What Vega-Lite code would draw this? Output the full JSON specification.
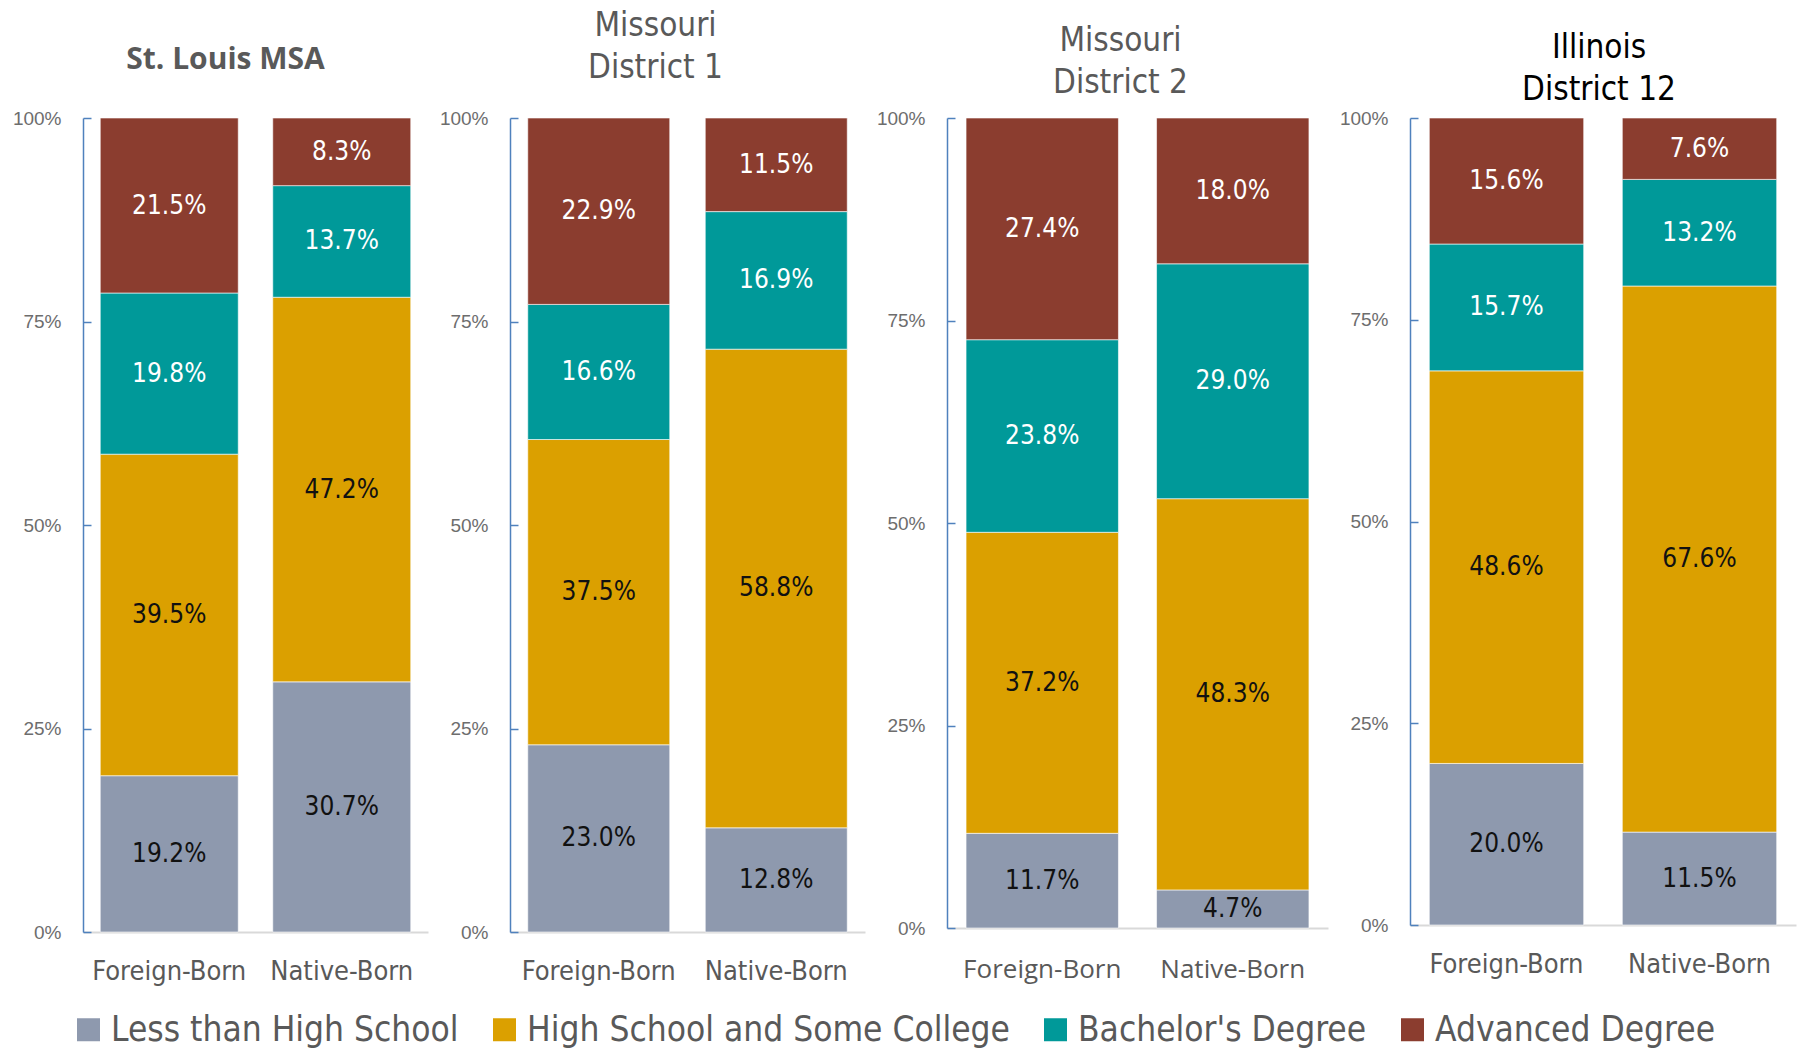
{
  "$schema": "https://vega.github.io/schema/vega-lite/v6.json",
  "background": "white",
  "padding": {"left": 12, "top": 10, "right": 5, "bottom": 5},
  "spacing": 82,
  "bounds": "flush",
  "resolve": {"scale": {"x": "independent", "y": "independent", "color": "shared"}},
  "config": {
    "view": {"stroke": null},
    "axisY": {"domainColor": "#4F81BD", "domainWidth": 1.5, "tickColor": "#4F81BD", "tickWidth": 1.5, "tickSize": -8, "labelPadding": 30, "labelFont": "Liberation Sans", "labelFontSize": 19, "labelColor": "#6d6d6d", "grid": false, "format": ".0%", "title": null},
    "axisX": {"domainColor": "#D9D9D9", "domainWidth": 2, "ticks": false, "labelFont": "DejaVu Sans Condensed, Roboto, sans-serif", "labelFontSize": 27, "labelColor": "#595959", "labelPadding": 26, "labelAngle": 0, "title": null, "grid": false}
  },
  "datasets": {
    "edu": [
      {"region": "St. Louis MSA", "group": "Foreign-Born", "cat": "Less than High School", "pct": 0.192},
      {"region": "St. Louis MSA", "group": "Foreign-Born", "cat": "High School and Some College", "pct": 0.395},
      {"region": "St. Louis MSA", "group": "Foreign-Born", "cat": "Bachelor's Degree", "pct": 0.198},
      {"region": "St. Louis MSA", "group": "Foreign-Born", "cat": "Advanced Degree", "pct": 0.215},
      {"region": "St. Louis MSA", "group": "Native-Born", "cat": "Less than High School", "pct": 0.307},
      {"region": "St. Louis MSA", "group": "Native-Born", "cat": "High School and Some College", "pct": 0.472},
      {"region": "St. Louis MSA", "group": "Native-Born", "cat": "Bachelor's Degree", "pct": 0.137},
      {"region": "St. Louis MSA", "group": "Native-Born", "cat": "Advanced Degree", "pct": 0.083},
      {"region": "Missouri District 1", "group": "Foreign-Born", "cat": "Less than High School", "pct": 0.230},
      {"region": "Missouri District 1", "group": "Foreign-Born", "cat": "High School and Some College", "pct": 0.375},
      {"region": "Missouri District 1", "group": "Foreign-Born", "cat": "Bachelor's Degree", "pct": 0.166},
      {"region": "Missouri District 1", "group": "Foreign-Born", "cat": "Advanced Degree", "pct": 0.229},
      {"region": "Missouri District 1", "group": "Native-Born", "cat": "Less than High School", "pct": 0.128},
      {"region": "Missouri District 1", "group": "Native-Born", "cat": "High School and Some College", "pct": 0.588},
      {"region": "Missouri District 1", "group": "Native-Born", "cat": "Bachelor's Degree", "pct": 0.169},
      {"region": "Missouri District 1", "group": "Native-Born", "cat": "Advanced Degree", "pct": 0.115},
      {"region": "Missouri District 2", "group": "Foreign-Born", "cat": "Less than High School", "pct": 0.117},
      {"region": "Missouri District 2", "group": "Foreign-Born", "cat": "High School and Some College", "pct": 0.372},
      {"region": "Missouri District 2", "group": "Foreign-Born", "cat": "Bachelor's Degree", "pct": 0.238},
      {"region": "Missouri District 2", "group": "Foreign-Born", "cat": "Advanced Degree", "pct": 0.274},
      {"region": "Missouri District 2", "group": "Native-Born", "cat": "Less than High School", "pct": 0.047},
      {"region": "Missouri District 2", "group": "Native-Born", "cat": "High School and Some College", "pct": 0.483},
      {"region": "Missouri District 2", "group": "Native-Born", "cat": "Bachelor's Degree", "pct": 0.290},
      {"region": "Missouri District 2", "group": "Native-Born", "cat": "Advanced Degree", "pct": 0.180},
      {"region": "Illinois District 12", "group": "Foreign-Born", "cat": "Less than High School", "pct": 0.200},
      {"region": "Illinois District 12", "group": "Foreign-Born", "cat": "High School and Some College", "pct": 0.486},
      {"region": "Illinois District 12", "group": "Foreign-Born", "cat": "Bachelor's Degree", "pct": 0.157},
      {"region": "Illinois District 12", "group": "Foreign-Born", "cat": "Advanced Degree", "pct": 0.156},
      {"region": "Illinois District 12", "group": "Native-Born", "cat": "Less than High School", "pct": 0.115},
      {"region": "Illinois District 12", "group": "Native-Born", "cat": "High School and Some College", "pct": 0.676},
      {"region": "Illinois District 12", "group": "Native-Born", "cat": "Bachelor's Degree", "pct": 0.132},
      {"region": "Illinois District 12", "group": "Native-Born", "cat": "Advanced Degree", "pct": 0.076}
    ]
  },
  "data": {"name": "edu"},
  "hconcat": [
    {
      "width": 345, "height": 814,
      "title": {"text": "St. Louis MSA", "font": "Open Sans", "fontSize": 30, "fontWeight": "bold", "color": "#595959", "anchor": "middle", "dx": -30, "offset": 34},
      "transform": [
        {"filter": "datum.region === 'St. Louis MSA'"},
        {"stack": "pct", "groupby": ["group"], "sort": [{"field": "cat", "order": "descending"}], "offset": "normalize", "as": ["y0", "y1"]}
      ],
      "layer": [
        {
          "mark": {"type": "bar", "stroke": "#ffffff", "strokeWidth": 0.6},
          "encoding": {
            "x": {"field": "group", "type": "nominal", "scale": {"paddingInner": 0.2, "paddingOuter": 0.1}},
            "y": {"field": "y0", "type": "quantitative", "scale": {"domain": [0, 1]}, "axis": {"values": [0, 0.25, 0.5, 0.75, 1]}},
            "y2": {"field": "y1"},
            "color": {"field": "cat", "type": "nominal",
              "scale": {"domain": ["Less than High School", "High School and Some College", "Bachelor's Degree", "Advanced Degree"], "range": ["#8E99AE", "#DBA000", "#009999", "#8B3D2F"]},
              "legend": {"title": null, "orient": "none", "legendX": -12, "legendY": 894, "direction": "horizontal", "symbolType": "square", "symbolSize": 529, "symbolStrokeWidth": 0, "labelFont": "DejaVu Sans Condensed, Roboto, sans-serif", "labelFontSize": 35, "labelColor": "#595959", "labelLimit": 800, "labelOffset": 5, "columnPadding": 28}}
          }
        },
        {
          "transform": [
            {"fold": ["y0", "y1"], "as": ["edge", "ypos"]},
            {"aggregate": [{"op": "mean", "field": "ypos", "as": "mid"}], "groupby": ["group", "cat", "pct"]}
          ],
          "mark": {"type": "text", "font": "DejaVu Sans Condensed, Roboto, sans-serif", "fontSize": 26, "baseline": "middle"},
          "encoding": {
            "x": {"field": "group", "type": "nominal"},
            "y": {"field": "mid", "type": "quantitative"},
            "text": {"field": "pct", "type": "quantitative", "format": ".1%"},
            "color": {"condition": {"test": "datum.cat === 'Advanced Degree' || datum.cat === 'Bachelor\\'s Degree'", "value": "#ffffff"}, "value": "#111111"}
          }
        }
      ]
    },
    {
      "width": 355, "height": 814,
      "title": {"text": ["Missouri", "District 1"], "font": "DejaVu Sans Condensed, Roboto, sans-serif", "fontSize": 33, "fontWeight": "normal", "lineHeight": 42, "color": "#595959", "anchor": "middle", "dx": -32, "offset": 24},
      "transform": [
        {"filter": "datum.region === 'Missouri District 1'"},
        {"stack": "pct", "groupby": ["group"], "sort": [{"field": "cat", "order": "descending"}], "offset": "normalize", "as": ["y0", "y1"]}
      ],
      "layer": [
        {
          "mark": {"type": "bar", "stroke": "#ffffff", "strokeWidth": 0.6},
          "encoding": {
            "x": {"field": "group", "type": "nominal", "scale": {"paddingInner": 0.2, "paddingOuter": 0.1}},
            "y": {"field": "y0", "type": "quantitative", "scale": {"domain": [0, 1]}, "axis": {"values": [0, 0.25, 0.5, 0.75, 1]}},
            "y2": {"field": "y1"},
            "color": {"field": "cat", "type": "nominal",
              "scale": {"domain": ["Less than High School", "High School and Some College", "Bachelor's Degree", "Advanced Degree"], "range": ["#8E99AE", "#DBA000", "#009999", "#8B3D2F"]},
              "legend": {"title": null, "orient": "none", "legendX": -12, "legendY": 894, "direction": "horizontal", "symbolType": "square", "symbolSize": 529, "symbolStrokeWidth": 0, "labelFont": "DejaVu Sans Condensed, Roboto, sans-serif", "labelFontSize": 35, "labelColor": "#595959", "labelLimit": 800, "labelOffset": 5, "columnPadding": 28}}
          }
        },
        {
          "transform": [
            {"fold": ["y0", "y1"], "as": ["edge", "ypos"]},
            {"aggregate": [{"op": "mean", "field": "ypos", "as": "mid"}], "groupby": ["group", "cat", "pct"]}
          ],
          "mark": {"type": "text", "font": "DejaVu Sans Condensed, Roboto, sans-serif", "fontSize": 26, "baseline": "middle"},
          "encoding": {
            "x": {"field": "group", "type": "nominal"},
            "y": {"field": "mid", "type": "quantitative"},
            "text": {"field": "pct", "type": "quantitative", "format": ".1%"},
            "color": {"condition": {"test": "datum.cat === 'Advanced Degree' || datum.cat === 'Bachelor\\'s Degree'", "value": "#ffffff"}, "value": "#111111"}
          }
        }
      ]
    },
    {
      "width": 381, "height": 810,
      "title": {"text": ["Missouri", "District 2"], "font": "DejaVu Sans Condensed, Roboto, sans-serif", "fontSize": 33, "fontWeight": "normal", "lineHeight": 42, "color": "#595959", "anchor": "middle", "dx": -17, "offset": 9},
      "transform": [
        {"filter": "datum.region === 'Missouri District 2'"},
        {"stack": "pct", "groupby": ["group"], "sort": [{"field": "cat", "order": "descending"}], "offset": "normalize", "as": ["y0", "y1"]}
      ],
      "layer": [
        {
          "mark": {"type": "bar", "stroke": "#ffffff", "strokeWidth": 0.6},
          "encoding": {
            "x": {"field": "group", "type": "nominal", "scale": {"paddingInner": 0.2, "paddingOuter": 0.1}, "axis": {"labelFont": "Open Sans", "labelFontSize": 26, "labelPadding": 28}},
            "y": {"field": "y0", "type": "quantitative", "scale": {"domain": [0, 1]}, "axis": {"values": [0, 0.25, 0.5, 0.75, 1]}},
            "y2": {"field": "y1"},
            "color": {"field": "cat", "type": "nominal",
              "scale": {"domain": ["Less than High School", "High School and Some College", "Bachelor's Degree", "Advanced Degree"], "range": ["#8E99AE", "#DBA000", "#009999", "#8B3D2F"]},
              "legend": {"title": null, "orient": "none", "legendX": -12, "legendY": 894, "direction": "horizontal", "symbolType": "square", "symbolSize": 529, "symbolStrokeWidth": 0, "labelFont": "DejaVu Sans Condensed, Roboto, sans-serif", "labelFontSize": 35, "labelColor": "#595959", "labelLimit": 800, "labelOffset": 5, "columnPadding": 28}}
          }
        },
        {
          "transform": [
            {"fold": ["y0", "y1"], "as": ["edge", "ypos"]},
            {"aggregate": [{"op": "mean", "field": "ypos", "as": "mid"}], "groupby": ["group", "cat", "pct"]}
          ],
          "mark": {"type": "text", "font": "DejaVu Sans Condensed, Roboto, sans-serif", "fontSize": 26, "baseline": "middle"},
          "encoding": {
            "x": {"field": "group", "type": "nominal"},
            "y": {"field": "mid", "type": "quantitative"},
            "text": {"field": "pct", "type": "quantitative", "format": ".1%"},
            "color": {"condition": {"test": "datum.cat === 'Advanced Degree' || datum.cat === 'Bachelor\\'s Degree'", "value": "#ffffff"}, "value": "#111111"}
          }
        }
      ]
    },
    {
      "width": 386, "height": 807,
      "title": {"text": ["Illinois", "District 12"], "font": "DejaVu Sans Condensed, Roboto, sans-serif", "fontSize": 33, "fontWeight": "normal", "lineHeight": 42, "color": "#000000", "anchor": "middle", "dx": -4, "offset": 2},
      "transform": [
        {"filter": "datum.region === 'Illinois District 12'"},
        {"stack": "pct", "groupby": ["group"], "sort": [{"field": "cat", "order": "descending"}], "offset": "normalize", "as": ["y0", "y1"]}
      ],
      "layer": [
        {
          "mark": {"type": "bar", "stroke": "#ffffff", "strokeWidth": 0.6},
          "encoding": {
            "x": {"field": "group", "type": "nominal", "scale": {"paddingInner": 0.2, "paddingOuter": 0.1}},
            "y": {"field": "y0", "type": "quantitative", "scale": {"domain": [0, 1]}, "axis": {"values": [0, 0.25, 0.5, 0.75, 1]}},
            "y2": {"field": "y1"},
            "color": {"field": "cat", "type": "nominal",
              "scale": {"domain": ["Less than High School", "High School and Some College", "Bachelor's Degree", "Advanced Degree"], "range": ["#8E99AE", "#DBA000", "#009999", "#8B3D2F"]},
              "legend": {"title": null, "orient": "none", "legendX": -12, "legendY": 894, "direction": "horizontal", "symbolType": "square", "symbolSize": 529, "symbolStrokeWidth": 0, "labelFont": "DejaVu Sans Condensed, Roboto, sans-serif", "labelFontSize": 35, "labelColor": "#595959", "labelLimit": 800, "labelOffset": 5, "columnPadding": 28}}
          }
        },
        {
          "transform": [
            {"fold": ["y0", "y1"], "as": ["edge", "ypos"]},
            {"aggregate": [{"op": "mean", "field": "ypos", "as": "mid"}], "groupby": ["group", "cat", "pct"]}
          ],
          "mark": {"type": "text", "font": "DejaVu Sans Condensed, Roboto, sans-serif", "fontSize": 26, "baseline": "middle"},
          "encoding": {
            "x": {"field": "group", "type": "nominal"},
            "y": {"field": "mid", "type": "quantitative"},
            "text": {"field": "pct", "type": "quantitative", "format": ".1%"},
            "color": {"condition": {"test": "datum.cat === 'Advanced Degree' || datum.cat === 'Bachelor\\'s Degree'", "value": "#ffffff"}, "value": "#111111"}
          }
        }
      ]
    }
  ]
}
